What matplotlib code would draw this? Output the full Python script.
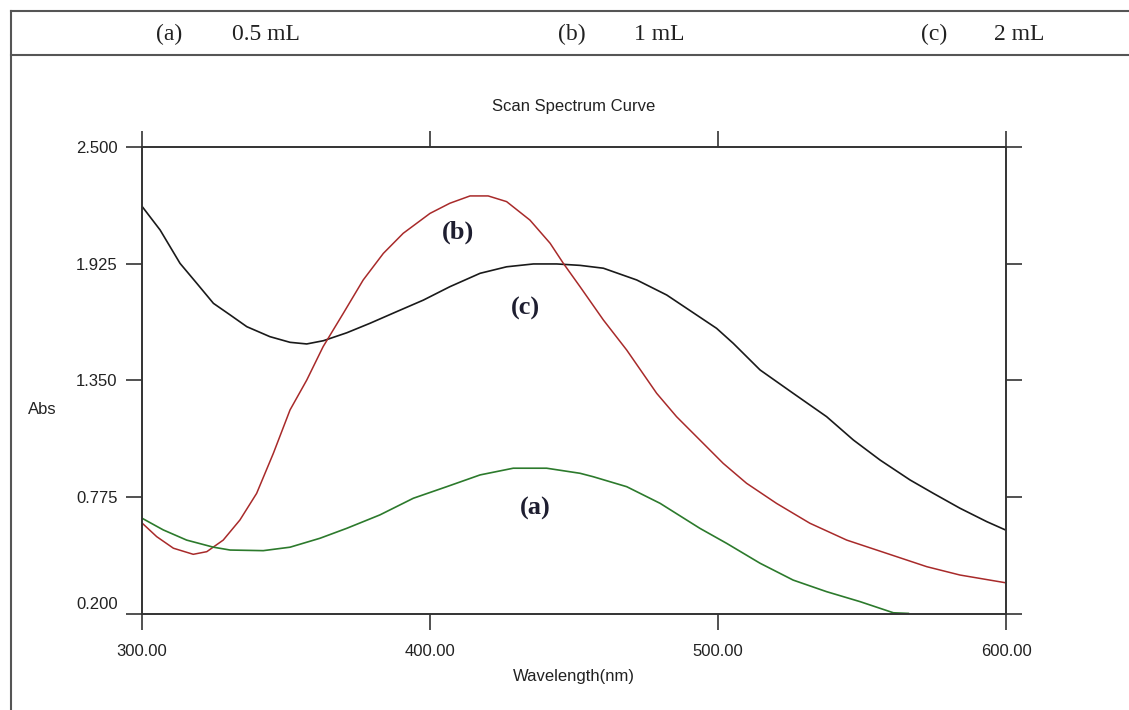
import matplotlib
matplotlib.use("Agg")
import matplotlib.pyplot as plt
from matplotlib.lines import Line2D
from matplotlib.transforms import ScaledTranslation

# curve (c) 2 mL - black
wl_c = [300.1, 306.3, 313.2, 319.0, 324.8, 330.6, 336.4, 344.4, 351.4, 357.2, 363.0,
        371.1, 379.2, 388.4, 397.7, 406.9, 417.4, 426.6, 435.9, 444.0, 452.1, 460.2,
        471.8, 482.2, 499.5, 505.3, 514.6, 526.1, 537.7, 547.0, 556.3, 566.7, 574.8,
        584.0, 593.3, 599.8]
abs_c = [2.206, 2.091, 1.927, 1.829, 1.730, 1.673, 1.615, 1.566, 1.538, 1.530, 1.546,
         1.585, 1.632, 1.689, 1.746, 1.812, 1.878, 1.910, 1.924, 1.924, 1.917, 1.903,
         1.845, 1.771, 1.607, 1.533, 1.402, 1.287, 1.172, 1.057, 0.958, 0.860, 0.794,
         0.721, 0.655, 0.614]

# curve (b) 1 mL - red
wl_b = [300.1, 305.1, 310.9, 317.8, 322.5, 328.2, 334.0, 339.8, 345.6, 351.4, 357.2,
        362.9, 369.9, 376.8, 383.8, 390.7, 400.0, 406.9, 413.9, 420.2, 426.6, 434.7,
        441.7, 446.3, 452.1, 460.2, 468.3, 478.7, 485.6, 493.7, 501.8, 509.9, 520.3,
        531.9, 544.7, 558.5, 572.5, 584.0, 599.8]
abs_b = [0.647, 0.581, 0.524, 0.494, 0.507, 0.564, 0.663, 0.794, 0.991, 1.205, 1.352,
         1.517, 1.681, 1.845, 1.976, 2.075, 2.173, 2.223, 2.259, 2.259, 2.231, 2.140,
         2.026, 1.927, 1.812, 1.648, 1.500, 1.287, 1.172, 1.057, 0.942, 0.844, 0.745,
         0.647, 0.564, 0.499, 0.433, 0.392, 0.354]

# curve (a) 0.5 mL - green
wl_a = [300.1, 307.4, 315.5, 324.8, 330.6, 342.1, 351.4, 361.8, 371.1, 382.6, 394.2,
        405.8, 417.4, 428.9, 440.5, 452.1, 456.7, 468.3, 479.9, 493.7, 503.0, 514.6,
        526.1, 537.7, 549.3, 560.9, 566.1]
abs_a = [0.671, 0.614, 0.564, 0.529, 0.515, 0.512, 0.529, 0.573, 0.622, 0.688, 0.770,
         0.827, 0.885, 0.918, 0.918, 0.893, 0.876, 0.827, 0.745, 0.622, 0.548, 0.450,
         0.367, 0.310, 0.261, 0.206, 0.203]

x_ticks = [300, 400, 500, 600]
y_ticks = [0.200, 0.775, 1.350, 1.925, 2.500]
header = [("(a)", "0.5 mL"), ("(b)", "1 mL"), ("(c)", "2 mL")]

sans = ["Liberation Sans", "DejaVu Sans"]
serif = ["Liberation Serif", "DejaVu Serif"]
fs = 12

fig = plt.figure(figsize=(11.29, 7.10), dpi=100)
ax = fig.add_axes([142 / 1129, 1 - 614 / 710, 864 / 1129, 467 / 710])

ax.plot(wl_c, abs_c, color="#1a1a1a", lw=1.2)
ax.plot(wl_b, abs_b, color="#a82a2a", lw=1.1)
ax.plot(wl_a, abs_a, color="#2c7a2c", lw=1.2)

ax.set_xlim(300, 600)
ax.set_ylim(0.2, 2.5)
ax.set_xticks(x_ticks)
ax.set_xticklabels(["%.2f" % v for v in x_ticks], family=sans, fontsize=fs, color="#222222")
ax.set_yticks(y_ticks)
ax.set_yticklabels(["%.3f" % v for v in y_ticks], family=sans, fontsize=fs, color="#222222")
ax.tick_params(direction="out", length=11.5, width=1.1, color="#222222",
               top=True, right=True, labeltop=False, labelright=False)
ax.tick_params(axis="x", pad=10)
ax.tick_params(axis="y", pad=6)
for s in ax.spines.values():
    s.set_linewidth(1.4)
    s.set_color("#333333")

# bottom y label sits a bit above its tick
lab = ax.get_yticklabels()[0]
lab.set_transform(lab.get_transform() + ScaledTranslation(0, 8 / 72, fig.dpi_scale_trans))

ax.set_title("Scan Spectrum Curve", family=sans, fontsize=fs, color="#222222", pad=26)
ax.set_xlabel("Wavelength(nm)", family=sans, fontsize=fs, color="#222222", labelpad=7)
fig.text(42 / 1129, 1 - 410 / 710, "Abs", family=sans, fontsize=fs, color="#222222",
         ha="center", va="center")

# curve labels
for txt, x, y in [("(b)", 409.7, 2.08), ("(c)", 433.0, 1.707), ("(a)", 436.5, 0.722)]:
    ax.text(x, y, txt, family=serif, fontsize=19, fontweight="bold", color="#1e1e30",
            ha="center", va="center")

# table frame
fc = "#555555"
fig.add_artist(Line2D([11 / 1129, 1], [1 - 11 / 710] * 2, transform=fig.transFigure, color=fc, lw=1.5))
fig.add_artist(Line2D([11 / 1129, 1], [1 - 55 / 710] * 2, transform=fig.transFigure, color=fc, lw=1.5))
fig.add_artist(Line2D([11 / 1129] * 2, [0, 1 - 11 / 710], transform=fig.transFigure, color=fc, lw=1.5))

hx = [(169, 266), (572, 659), (934, 1019)]
for (lbl, vol), (x1, x2) in zip(header, hx):
    fig.text(x1 / 1129, 1 - 34 / 710, lbl, family=serif, fontsize=17, ha="center", va="center", color="#222222")
    fig.text(x2 / 1129, 1 - 34 / 710, vol, family=serif, fontsize=17, ha="center", va="center", color="#222222")

fig.savefig("out.png", dpi=100)
